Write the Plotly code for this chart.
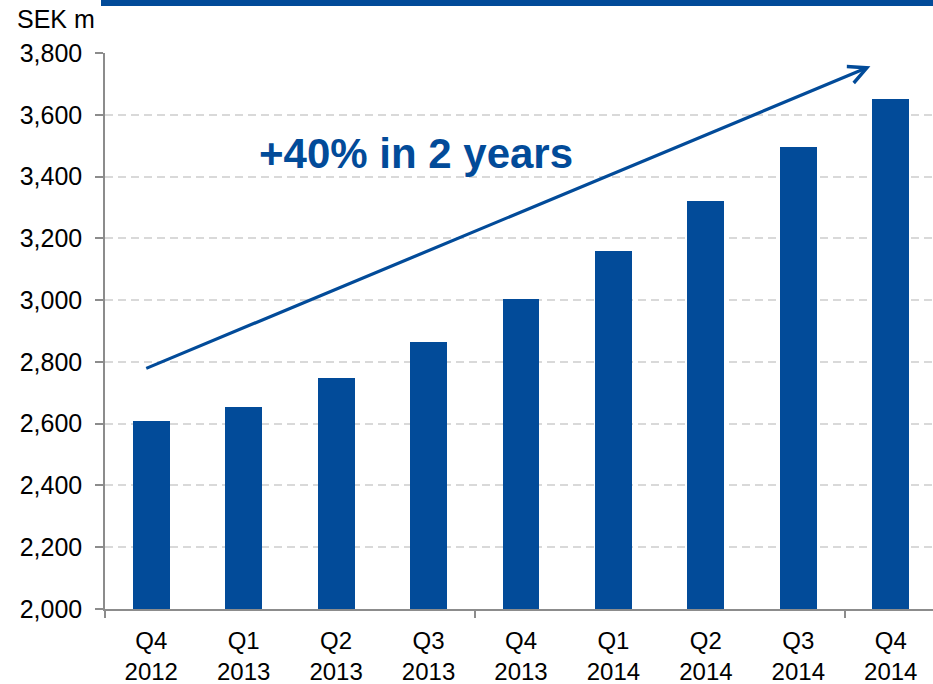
import plotly.graph_objects as go

# Quarterly values, SEK m
quarters = ["Q4", "Q1", "Q2", "Q3", "Q4", "Q1", "Q2", "Q3", "Q4"]
years = ["2012", "2013", "2013", "2013", "2013", "2014", "2014", "2014", "2014"]
values = [2610, 2655, 2747, 2864, 3005, 3160, 3322, 3496, 3651]

# Trend arrow: start and end in data coordinates
arrow_start = (-0.07, 2777)
arrow_end = (7.78, 3757)
growth_label = "+40% in 2 years"

y_ticks = list(range(2000, 3801, 200))
year_boundaries = [-0.5, 3.5, 7.5]

categories = [f"{q}<br>{y}" for q, y in zip(quarters, years)]

BLUE = "#024b99"
AXIS_GREY = "#8c8c8c"
FONT = "Arial, Liberation Sans, sans-serif"

W, H = 933, 684
L, R, T, B = 105, 0, 53, 75
x_range = [-0.5, 8.457]
y_range = [2000, 3800]

fig = go.Figure()
fig.add_trace(go.Bar(
    x=list(range(len(values))),
    y=values,
    width=0.4,
    marker=dict(color=BLUE, line=dict(width=0)),
    showlegend=False,
    hoverinfo="skip",
))

fig.update_layout(
    width=W,
    height=H,
    margin=dict(l=L, r=R, t=T, b=B, pad=0, autoexpand=False),
    paper_bgcolor="white",
    plot_bgcolor="white",
    font=dict(family=FONT, size=25, color="#000000"),
    bargap=0,
    xaxis=dict(
        range=x_range,
        tickmode="array",
        tickvals=list(range(len(categories))),
        ticktext=categories,
        ticks="",
        showgrid=False,
        zeroline=False,
        showline=True,
        linecolor=AXIS_GREY,
        linewidth=1.5,
        tickfont=dict(size=24, color="#000000"),
        ticklabelstandoff=9,
        automargin=False,
    ),
    xaxis2=dict(
        overlaying="x",
        anchor="y",
        range=x_range,
        tickmode="array",
        tickvals=year_boundaries,
        ticks="outside",
        ticklen=8,
        tickwidth=1.5,
        tickcolor=AXIS_GREY,
        showticklabels=False,
        showgrid=False,
        zeroline=False,
        showline=False,
        automargin=False,
    ),
    yaxis=dict(
        range=y_range,
        tickmode="array",
        tickvals=y_ticks,
        tickformat=",",
        ticks="outside",
        ticklen=8,
        tickwidth=1.5,
        tickcolor=AXIS_GREY,
        showline=True,
        linecolor=AXIS_GREY,
        linewidth=1.5,
        showgrid=True,
        gridcolor="#d9d9d9",
        gridwidth=1.5,
        griddash="8px,5px",
        zeroline=False,
        tickfont=dict(size=25, color="#000000"),
        ticklabelstandoff=8,
        automargin=False,
    ),
)

# Dummy trace so the boundary-tick axis renders
fig.add_trace(go.Scatter(x=[None], y=[None], xaxis="x2", yaxis="y",
                         showlegend=False, hoverinfo="skip"))

# Header strip along the top edge
ph = H - T - B
pw = W - L - R
fig.add_shape(
    type="rect", xref="paper", yref="paper",
    x0=(101 - L) / pw, x1=1.0,
    y0=1 + (T - 6) / ph, y1=1 + T / ph,
    fillcolor=BLUE, line=dict(width=0), layer="above",
)

# Unit label
fig.add_annotation(
    text="SEK m", xref="paper", yref="paper",
    x=(15 - L) / pw, y=1 + (T - 19) / ph,
    xanchor="left", yanchor="middle",
    showarrow=False, font=dict(size=25, color="#000000"),
)

# Trend arrow
fig.add_annotation(
    x=arrow_end[0], y=arrow_end[1],
    ax=arrow_start[0], ay=arrow_start[1],
    xref="x", yref="y", axref="x", ayref="y",
    text="", showarrow=True,
    arrowhead=5, arrowsize=1.1, arrowwidth=3.2, arrowcolor=BLUE,
    standoff=0,
)

# Growth label
fig.add_annotation(
    text=f"<b>{growth_label}</b>",
    x=2.868, y=3474, xref="x", yref="y",
    xanchor="center", yanchor="middle",
    showarrow=False, font=dict(size=42, color=BLUE),
)

fig.write_html("out.html")
